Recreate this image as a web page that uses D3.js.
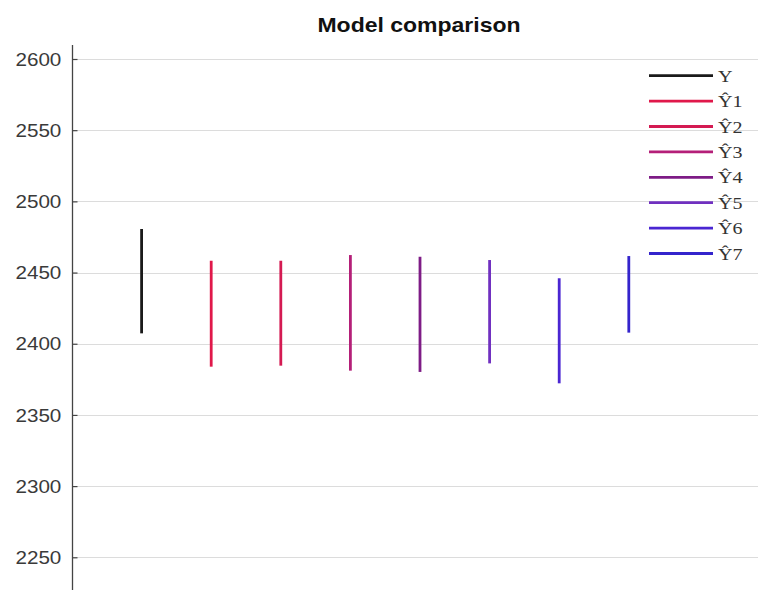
<!DOCTYPE html>
<html>
<head>
<meta charset="utf-8">
<script src="https://cdn.jsdelivr.net/npm/d3@7"></script>
<style>
  html, body { margin: 0; padding: 0; background: #fff; }
  svg { display: block; }
</style>
</head>
<body>
<svg id="chart" width="758" height="590"></svg>
<script>
// Series labels, in plotting order
const seriesNames = ["Y", "Ŷ1", "Ŷ2", "Ŷ3", "Ŷ4", "Ŷ5", "Ŷ6", "Ŷ7"];
// Range of each series (lower and upper end of the vertical segment)
const lowValues  = [2407.3, 2383.9, 2384.6, 2381.1, 2380.2, 2386.2, 2372.2, 2407.8];
const highValues = [2480.6, 2458.3, 2458.3, 2462.3, 2461.1, 2458.8, 2446.0, 2461.6];
const seriesColors = ["#1a1a1a", "#e0184a", "#d41a52", "#b41f78", "#7e1c86", "#7030c0", "#4a26d2", "#3424cc"];
const yTicks = [2250, 2300, 2350, 2400, 2450, 2500, 2550, 2600];
const chartTitle = "Model comparison";

const svg = d3.select("#chart");
const stretch = 1.18;

const x = d3.scaleLinear().domain([0, 10]).range([72, 768]);
const y = d3.scaleLinear().domain([2250, 2600]).range([557.3, 59]);

const plotTop = 45, plotBottom = 600;

// Horizontal grid
svg.append("g")
  .selectAll("line")
  .data(yTicks)
  .join("line")
  .attr("x1", 73).attr("x2", 758)
  .attr("y1", d => Math.round(y(d)) + 0.5)
  .attr("y2", d => Math.round(y(d)) + 0.5)
  .attr("stroke", "#dcdcdc")
  .attr("stroke-width", 1);

// Y axis with inward ticks
const axis = d3.axisLeft(y).tickValues(yTicks).tickSize(-5).tickPadding(10).tickFormat(d3.format("d"));
const gAxis = svg.append("g").attr("transform", "translate(72.5,0)").call(axis);
gAxis.select(".domain").remove();
gAxis.append("line")
  .attr("x1", 0).attr("x2", 0)
  .attr("y1", plotTop).attr("y2", plotBottom)
  .attr("stroke", "#444").attr("stroke-width", 1.3);
gAxis.selectAll(".tick line").attr("stroke", "#444").attr("stroke-width", 1.2);
gAxis.selectAll(".tick text")
  .attr("fill", "#3a3a3a")
  .attr("font-family", "'Liberation Sans', Arial, sans-serif")
  .attr("font-size", 17.5)
  .attr("dy", "0.35em")
  .attr("transform", `translate(-10,0) scale(${stretch},1)`)
  .attr("x", -1);

// Range segments
svg.append("g")
  .selectAll("line")
  .data(seriesNames)
  .join("line")
  .attr("x1", (d, i) => x(i + 1)).attr("x2", (d, i) => x(i + 1))
  .attr("y1", (d, i) => y(lowValues[i]))
  .attr("y2", (d, i) => y(highValues[i]))
  .attr("stroke", (d, i) => seriesColors[i])
  .attr("stroke-width", 2.8);

// Title
svg.append("text")
  .attr("transform", `translate(419,32) scale(${stretch},1)`)
  .attr("text-anchor", "middle")
  .attr("font-family", "'Liberation Sans', Arial, sans-serif")
  .attr("font-weight", "bold")
  .attr("font-size", 19.5)
  .attr("fill", "#111")
  .text(chartTitle);

// Legend
const legend = svg.append("g");
const rows = legend.selectAll("g")
  .data(seriesNames)
  .join("g")
  .attr("transform", (d, i) => `translate(0,${75.7 + i * 25.4})`);
rows.append("line")
  .attr("x1", 649).attr("x2", 713)
  .attr("y1", 0).attr("y2", 0)
  .attr("stroke", (d, i) => seriesColors[i])
  .attr("stroke-width", 2.8);
rows.append("text")
  .attr("transform", `translate(718,6) scale(${stretch},1)`)
  .attr("font-family", "'Liberation Serif', 'Times New Roman', serif")
  .attr("font-size", 17)
  .attr("fill", "#333")
  .text(d => d);
</script>
</body>
</html>
